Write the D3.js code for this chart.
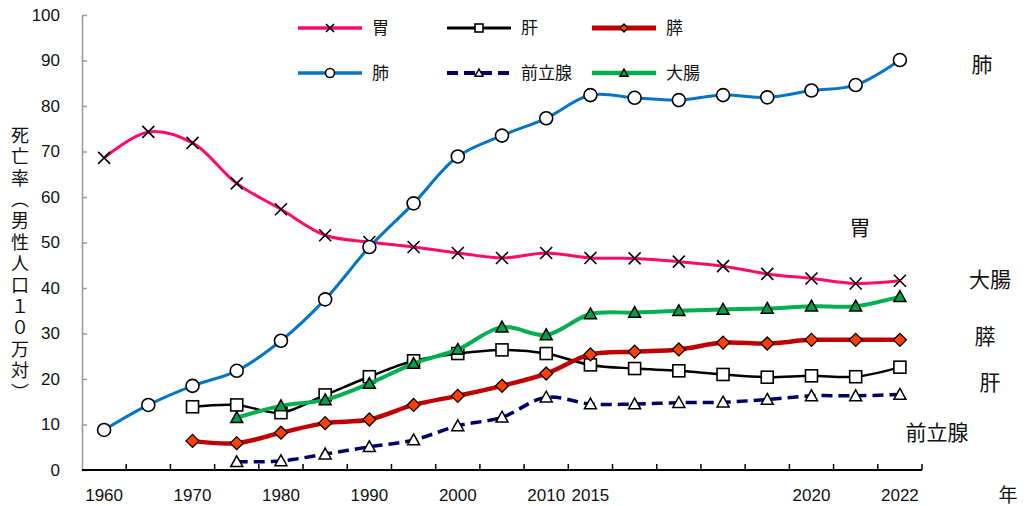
<!DOCTYPE html>
<html lang="ja">
<head>
<meta charset="utf-8">
<script src="https://cdn.jsdelivr.net/npm/d3@7"></script>
<style>
  html, body { margin: 0; padding: 0; background: #fff; }
  svg { display: block; }
  text { font-family: "Liberation Sans", Arial, "Noto Sans CJK JP", sans-serif; fill: #111; }
  .jp { font-family: "Noto Sans CJK JP", sans-serif; }
</style>
</head>
<body>
<svg id="chart" width="1027" height="506"></svg>
<script>
// Male cancer death rate per 100,000, by site
const years = ["1960","1965","1970","1975","1980","1985","1990","1995","2000","2005","2010",
               "2015","2016","2017","2018","2019","2020","2021","2022"];
const yearLabels = ["1960","1970","1980","1990","2000","2010","2015","2020","2022"];
const yTicks = [0,10,20,30,40,50,60,70,80,90,100];

const stomach  = [68.6,74.3,71.9,63.0,57.3,51.6,50.1,49.0,47.7,46.6,47.7,46.6,46.5,45.8,44.8,43.1,42.1,41.0,41.6];
const liver    = [null,null,13.9,14.3,12.6,16.5,20.5,24.0,25.6,26.4,25.6,23.1,22.3,21.8,21.0,20.4,20.7,20.5,22.6];
const pancreas = [null,null,6.4,5.9,8.2,10.3,11.1,14.3,16.3,18.5,21.2,25.4,26.0,26.5,28.0,27.8,28.6,28.6,28.6];
const lung     = [8.8,14.3,18.5,21.8,28.4,37.5,49.0,58.6,68.9,73.5,77.3,82.4,81.8,81.3,82.4,81.9,83.4,84.6,90.1];
const prostate = [null,null,null,1.8,2.0,3.5,5.1,6.6,9.7,11.6,16.0,14.5,14.5,14.8,14.9,15.5,16.3,16.3,16.6];
const colon    = [null,null,null,11.5,14.1,15.4,19.0,23.4,26.5,31.4,29.7,34.3,34.6,35.0,35.3,35.5,36.0,36.0,38.1];

const seriesNames = ["胃","肝","膵","肺","前立腺","大腸"];

const series = [
  { name: "胃",     values: stomach,  color: "#FF0A6C", width: 3,   dash: null,   marker: "x",        fill: "none" },
  { name: "肝",     values: liver,    color: "#000000", width: 2.5, dash: null,   marker: "square",   fill: "#fff" },
  { name: "膵",     values: pancreas, color: "#C00000", width: 4.5, dash: null,   marker: "diamond",  fill: "#FF4000" },
  { name: "肺",     values: lung,     color: "#0474C4", width: 3,   dash: null,   marker: "circle",   fill: "#fff" },
  { name: "前立腺", values: prostate, color: "#000066", width: 3.5, dash: "11,6", marker: "triangle", fill: "#fff" },
  { name: "大腸",   values: colon,    color: "#00B050", width: 4,   dash: null,   marker: "triangle", fill: "#00A04A" }
];

// end-of-line labels on the right
const sideLabels = [
  { text: "肺",     x: 982, y: 65 },
  { text: "胃",     x: 860, y: 228 },
  { text: "大腸",   x: 990, y: 280 },
  { text: "膵",     x: 985, y: 337 },
  { text: "肝",     x: 990, y: 383 },
  { text: "前立腺", x: 937, y: 433 }
];

const svg = d3.select("#chart");

const x = d3.scaleBand().domain(years).range([82, 922]).padding(0);
const cx = d => x(d) + x.bandwidth() / 2;
const y = d3.scaleLinear().domain([0, 100]).range([470, 15]);

// y axis (grey, ticks pointing inward)
const yAxis = d3.axisLeft(y).tickValues(yTicks).tickSizeInner(-5).tickSizeOuter(0).tickPadding(22);
const gy = svg.append("g").attr("transform", "translate(82,0)").call(yAxis);
gy.select(".domain").attr("stroke", "#999").attr("stroke-width", 1.5);
gy.selectAll(".tick line").attr("stroke", "#999").attr("stroke-width", 1.5);
gy.selectAll(".tick text").attr("font-size", 17).attr("fill", "#111")
  .attr("font-family", "'Liberation Sans', Arial, sans-serif");

// x axis: baseline with ticks on category boundaries
const edges = years.map(d => x(d)).concat([x(years[years.length - 1]) + x.bandwidth()]);
svg.append("line").attr("x1", 82).attr("x2", edges[edges.length - 1])
  .attr("y1", y(0)).attr("y2", y(0)).attr("stroke", "#000").attr("stroke-width", 2);
svg.append("g").selectAll("line").data(edges.slice(1)).join("line")
  .attr("x1", d => d).attr("x2", d => d)
  .attr("y1", y(0)).attr("y2", y(0) - 6)
  .attr("stroke", "#000").attr("stroke-width", 1.5);
svg.append("g").selectAll("text").data(yearLabels).join("text")
  .attr("x", d => cx(d)).attr("y", 501)
  .attr("text-anchor", "middle").attr("font-size", 17)
  .text(d => d);
svg.append("text").attr("class", "jp").attr("x", 1008).attr("y", 502)
  .attr("text-anchor", "middle").attr("font-size", 19).text("年");

// y axis title, set vertically
svg.append("text").attr("class", "jp")
  .attr("x", 20).attr("y", 126)
  .attr("font-size", 18)
  .style("writing-mode", "vertical-rl")
  .style("letter-spacing", "3.4px")
  .text("死亡率（男性人口１０万対）");

// marker shapes
function drawMarker(g, type, size, fill) {
  const h = size / 2;
  if (type === "x") {
    g.append("path").attr("d", `M${-h},${-h}L${h},${h}M${-h},${h}L${h},${-h}`)
      .attr("stroke", "#000").attr("stroke-width", 1.6).attr("fill", "none");
  } else if (type === "circle") {
    g.append("circle").attr("r", h).attr("fill", fill).attr("stroke", "#000").attr("stroke-width", 1.6);
  } else if (type === "square") {
    g.append("rect").attr("x", -h).attr("y", -h).attr("width", size).attr("height", size)
      .attr("fill", fill).attr("stroke", "#000").attr("stroke-width", 1.6);
  } else if (type === "diamond") {
    g.append("path").attr("d", `M0,${-h}L${h},0L0,${h}L${-h},0Z`)
      .attr("fill", fill).attr("stroke", "#000").attr("stroke-width", 1.3);
  } else if (type === "triangle") {
    g.append("path").attr("d", `M0,${-h}L${h},${h * 0.8}L${-h},${h * 0.8}Z`)
      .attr("fill", fill).attr("stroke", "#000").attr("stroke-width", 1.5);
  }
}

const line = d3.line()
  .defined(d => d.v != null)
  .x(d => cx(d.year))
  .y(d => y(d.v))
  .curve(d3.curveCatmullRom.alpha(0.5));

series.forEach(s => {
  const pts = years.map((yr, i) => ({ year: yr, v: s.values[i] })).filter(d => d.v != null);
  const g = svg.append("g");
  g.append("path").datum(pts).attr("d", line)
    .attr("fill", "none").attr("stroke", s.color).attr("stroke-width", s.width)
    .attr("stroke-dasharray", s.dash).attr("stroke-linecap", "butt");
  pts.forEach(p => {
    const m = g.append("g").attr("transform", `translate(${cx(p.year)},${y(p.v)})`);
    const size = s.marker === "circle" ? 13 : (s.marker === "diamond" ? 13 : 12);
    drawMarker(m, s.marker, size, s.fill);
  });
});

// legend: two rows of three
const legendCols = [298, 447, 592];
const legendRows = [28, 73];
series.forEach((s, i) => {
  const lx = legendCols[i % 3], ly = legendRows[Math.floor(i / 3)];
  const g = svg.append("g").attr("transform", `translate(${lx},${ly})`);
  g.append("line").attr("x1", 0).attr("x2", 64).attr("y1", 0).attr("y2", 0)
    .attr("stroke", s.color).attr("stroke-width", s.width + 0.5).attr("stroke-dasharray", s.dash);
  const m = g.append("g").attr("transform", "translate(32,0)");
  drawMarker(m, s.marker, s.marker === "circle" ? 9 : 8, s.fill);
  g.append("text").attr("class", "jp").attr("x", 74).attr("y", 0).attr("dy", "0.35em")
    .attr("font-size", 17).text(s.name);
});

// right-hand labels
svg.append("g").selectAll("text").data(sideLabels).join("text")
  .attr("class", "jp")
  .attr("x", d => d.x).attr("y", d => d.y).attr("dy", "0.35em")
  .attr("text-anchor", "middle").attr("font-size", 21)
  .text(d => d.text);
</script>
</body>
</html>
